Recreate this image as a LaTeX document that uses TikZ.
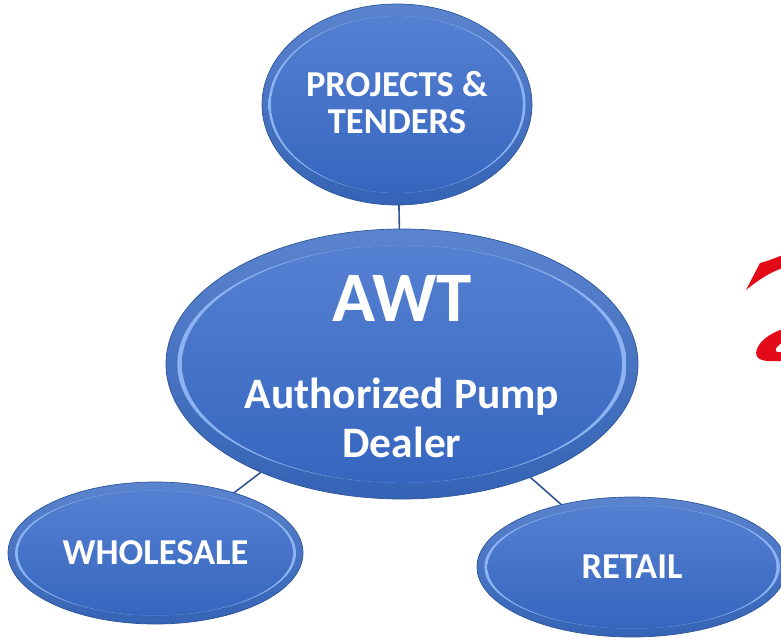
\documentclass[tikz,border=0pt]{standalone}
\usepackage{fontspec}
\setmainfont{Carlito}
\usetikzlibrary{shapes.geometric}
\definecolor{rimdark}{HTML}{2F5597}
\definecolor{rimtop}{HTML}{5B84CF}
\definecolor{rimlow}{HTML}{3563B5}
\definecolor{rimlight}{HTML}{8DB4F2}
\definecolor{facetop}{HTML}{5680D2}
\definecolor{facelow}{HTML}{3566BE}
\definecolor{swoosh}{HTML}{E30B17}
\newcommand{\awtbig}{\fontsize{71}{74}\bfseries\selectfont}
\newcommand{\awtmid}{\fontsize{43.5}{47}\bfseries\selectfont}
\newcommand{\awtsmall}{\fontsize{36.5}{39}\bfseries\selectfont}
\tikzset{
  blob/.style={ellipse,draw=rimdark,line width=0.7pt,inner sep=0pt,align=center,
    text=white,top color=rimtop,bottom color=rimlow,
    path picture={
      \path[left color=rimlight,middle color=facetop!70!facelow,right color=rimlight] (path picture bounding box.center)
        ellipse [x radius=0.476*\pgfkeysvalueof{/pgf/minimum width},
                 y radius=0.44*\pgfkeysvalueof{/pgf/minimum height}];
      \path[top color=facetop,bottom color=facelow] (path picture bounding box.center)
        ellipse [x radius=0.466*\pgfkeysvalueof{/pgf/minimum width},
                 y radius=0.44*\pgfkeysvalueof{/pgf/minimum height}];
    }},
  link/.style={draw=rimdark,line width=1.6pt}
}
\begin{document}
\begin{tikzpicture}[x=1pt,y=-1pt]
\useasboundingbox (0,0) rectangle (781,641);
\clip (0,0) rectangle (781,641);

% connectors first, the ovals sit on top
\coordinate (c_awt)    at (402,364);
\coordinate (c_top)    at (397,104.5);
\coordinate (c_left)   at (155.5,553);
\coordinate (c_right)  at (632,567);
\draw[link] (c_awt) -- (c_top);
\draw[link] (c_awt) -- (c_left);
\draw[link] (c_awt) -- (c_right);

\node[blob,minimum width=270pt,minimum height=201pt] (projects) at (c_top)
  {\awtsmall PROJECTS \&\\[12pt]\awtsmall TENDERS\rule[-4pt]{0pt}{1pt}};
\node[blob,minimum width=472pt,minimum height=270pt] (awt) at (c_awt)
  {\awtbig\rule{0pt}{51pt}AWT\\[56pt]\awtmid Authorized Pump\\[10pt]\awtmid Dealer};
\node[blob,minimum width=295pt,minimum height=142pt] (wholesale) at (c_left) {\awtsmall WHOLESALE};
\node[blob,minimum width=310pt,minimum height=140pt] (retail) at (c_right) {\awtsmall RETAIL};

% red strokes cut by the right edge
\fill[swoosh] (746,290) -- (760,263) .. controls (768,261) and (775,258) .. (783,255)
  -- (783,268) .. controls (770,272) and (757,281) .. (746,290) -- cycle;
\fill[swoosh] (783,329) .. controls (768,334) and (757,343) .. (756,353)
  .. controls (756,359) and (762,361) .. (770,361) -- (783,361) -- (783,352)
  -- (778,352) .. controls (775,352) and (775,349) .. (777,347)
  .. controls (779,345) and (781,343) .. (783,342) -- cycle;
\end{tikzpicture}
\end{document}
